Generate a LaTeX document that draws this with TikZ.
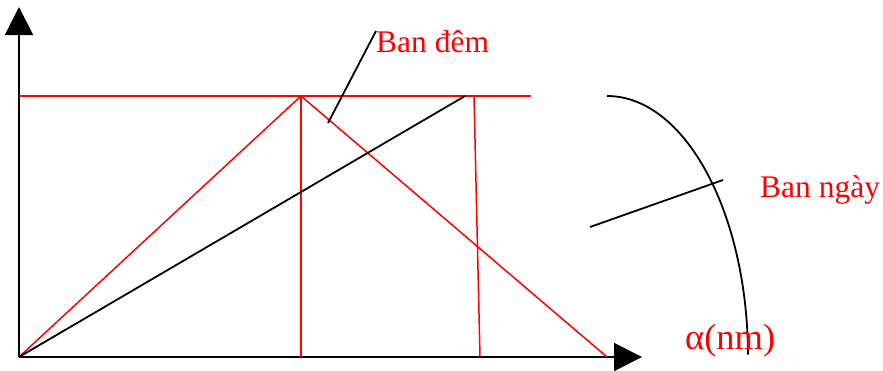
\documentclass[tikz,border=0pt]{standalone}
\usepackage{fontspec}
\setmainfont{Liberation Serif}
\usetikzlibrary{arrows.meta}
\begin{document}
\begin{tikzpicture}[x=1pt,y=-1pt,
  redline/.style={draw=red,line width=1.5pt},
  blackline/.style={draw=black,line width=1.8pt},
  axis/.style={draw=black,line width=2pt,-{Triangle[length=28pt,width=28pt]}},
  lbl/.style={text=red,inner sep=0pt,anchor=base west,font=\fontsize{31.5}{36}\selectfont}]
\useasboundingbox (0,0) rectangle (883,370);
% coordinates
\coordinate (O) at (19,357);
\coordinate (Ytip) at (19,7);
\coordinate (Xtip) at (642,357);
\coordinate (Hl) at (19,96);
\coordinate (Hr) at (531,96);
\coordinate (P) at (301,96);
\coordinate (Pb) at (301,357);
\coordinate (Q) at (474,96);
\coordinate (Qb) at (480,357);
\coordinate (R) at (607,357);
\coordinate (B) at (465,96);
\coordinate (L1a) at (376,31);
\coordinate (L1b) at (328,123);
\coordinate (L2a) at (590,227);
\coordinate (L2b) at (723,180);
\coordinate (Ctop) at (607,96);
% axes
\draw[axis] (O) -- (Ytip);
\draw[axis] (O) -- (Xtip);
% red lines
\draw[redline] (Hl) -- (Hr);
\draw[redline] (O) -- (P) -- (R);
\draw[redline] (P) -- (Pb);
\draw[redline] (Q) -- (Qb);
% black lines
\draw[blackline] (O) -- (B);
\draw[blackline] (L1a) -- (L1b);
\draw[blackline] (L2a) -- (L2b);
\draw[blackline] (Ctop) arc[start angle=90,end angle=0.5,x radius=141,y radius=-261];
% labels
\node[lbl] (dem) at (376,52) {Ban đêm};
\node[lbl] (ngay) at (760,197) {Ban ngày};
\node[lbl,font=\fontsize{36.5}{42}\selectfont] (alpha) at (685,349) {α(nm)};
\end{tikzpicture}
\end{document}
